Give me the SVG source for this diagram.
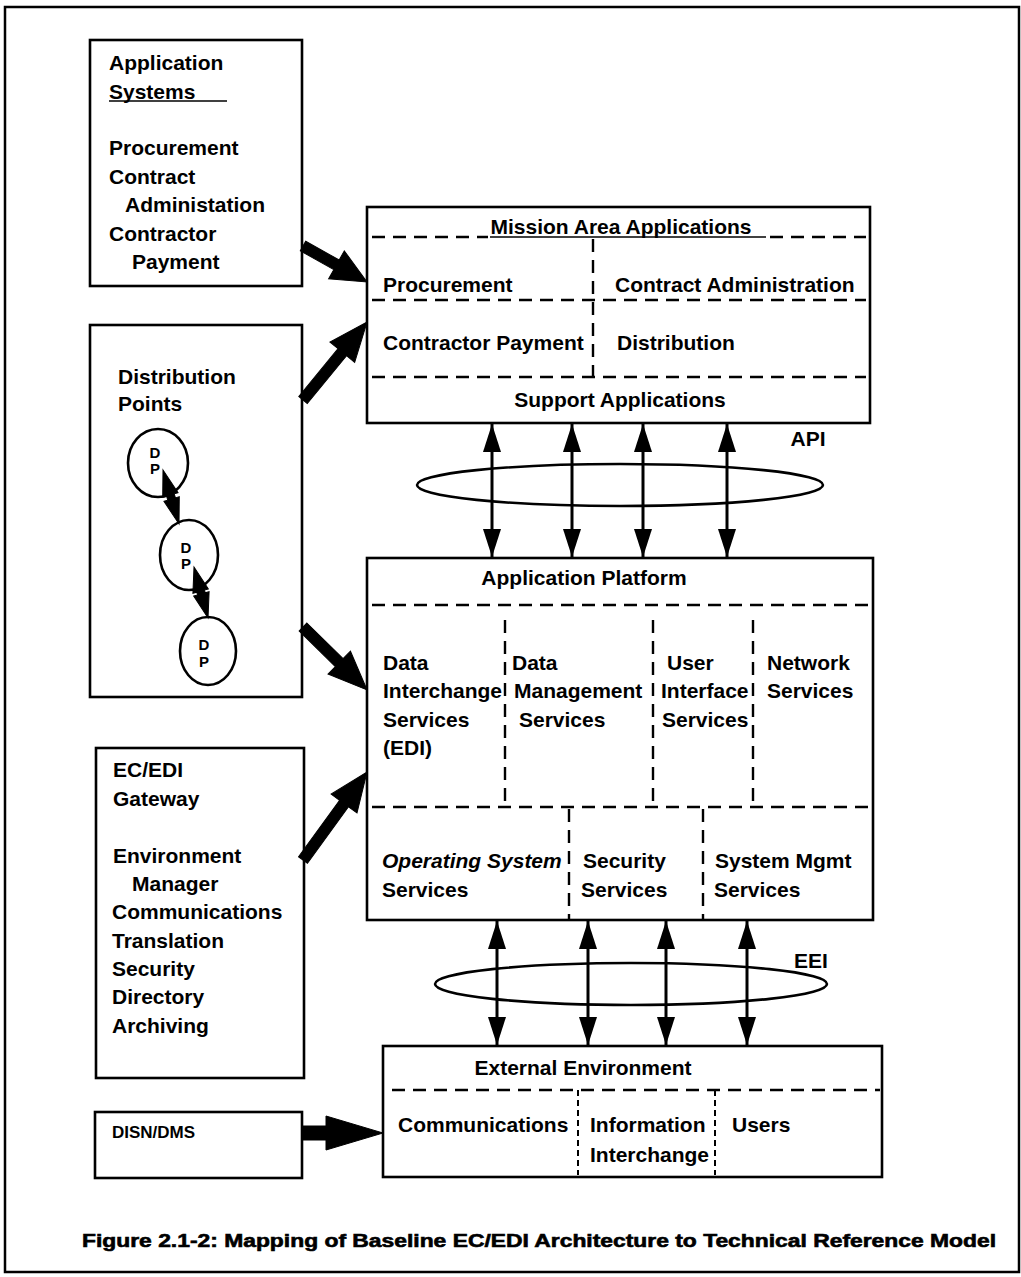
<svg xmlns="http://www.w3.org/2000/svg" width="1021" height="1277" viewBox="0 0 1021 1277">
<style>
.box{fill:#fff;stroke:#000;stroke-width:2.6}
.dash{fill:none;stroke:#000;stroke-width:2.4;stroke-dasharray:13 8}
.dashf{fill:none;stroke:#000;stroke-width:2;stroke-dasharray:6 4}
.t{font-family:"Liberation Sans",Arial,Helvetica,sans-serif;font-weight:bold;font-size:21px;fill:#000}
.s{font-size:17px}
.dp{font-size:15px}
.cap{font-size:18px;stroke:#000;stroke-width:0.6}
.fat{fill:#000;stroke:#000;stroke-width:1}
.link{stroke:#000;stroke-width:3;fill:none}
.ring{fill:none;stroke:#000;stroke-width:2.6}
.ul{stroke:#000;stroke-width:1.6}
</style>
<defs>
<marker id="hEnd" viewBox="0 0 28 18" refX="28" refY="9" markerWidth="28" markerHeight="18" markerUnits="userSpaceOnUse" orient="auto"><path d="M0,0 L28,9 L0,18 Z" fill="#000"/></marker>
<marker id="hStart" viewBox="0 0 28 18" refX="0" refY="9" markerWidth="28" markerHeight="18" markerUnits="userSpaceOnUse" orient="auto"><path d="M28,0 L0,9 L28,18 Z" fill="#000"/></marker>
</defs>
<rect width="1021" height="1277" fill="#fff"/>
<rect x="5" y="7" width="1014" height="1265" fill="none" stroke="#000" stroke-width="2.5"/>

<g id="app-systems">
<rect class="box" x="90" y="40" width="212" height="246"/>
<text class="t" x="109" y="70">Application</text>
<text class="t" x="109" y="99">Systems</text>
<line class="ul" x1="109" y1="101" x2="227" y2="101"/>
<text class="t" x="109" y="155">Procurement</text>
<text class="t" x="109" y="184">Contract</text>
<text class="t" x="125" y="212">Administation</text>
<text class="t" x="109" y="241">Contractor</text>
<text class="t" x="132" y="269">Payment</text>
</g>

<g id="distribution-points">
<rect class="box" x="90" y="325" width="212" height="372"/>
<text class="t" x="118" y="384">Distribution</text>
<text class="t" x="118" y="411">Points</text>
<ellipse class="ring" cx="158" cy="463" rx="30" ry="34"/>
<text class="t dp" x="155" y="458" text-anchor="middle">D</text>
<text class="t dp" x="155" y="474" text-anchor="middle">P</text>
<ellipse class="ring" cx="189" cy="555" rx="29" ry="35"/>
<text class="t dp" x="186" y="553" text-anchor="middle">D</text>
<text class="t dp" x="186" y="569" text-anchor="middle">P</text>
<ellipse class="ring" cx="208" cy="651" rx="28" ry="34"/>
<text class="t dp" x="204" y="650" text-anchor="middle">D</text>
<text class="t dp" x="204" y="667" text-anchor="middle">P</text>
</g>

<g id="ec-edi-gateway">
<rect class="box" x="96" y="748" width="208" height="330"/>
<text class="t" x="113" y="777">EC/EDI</text>
<text class="t" x="113" y="806">Gateway</text>
<text class="t" x="113" y="863">Environment</text>
<text class="t" x="132" y="891">Manager</text>
<text class="t" x="112" y="919">Communications</text>
<text class="t" x="112" y="948">Translation</text>
<text class="t" x="112" y="976">Security</text>
<text class="t" x="112" y="1004">Directory</text>
<text class="t" x="112" y="1033">Archiving</text>
</g>

<g id="disn-dms">
<rect class="box" x="95" y="1112" width="207" height="66"/>
<text class="t s" x="112" y="1138">DISN/DMS</text>
</g>

<g id="mission-area">
<rect class="box" x="367" y="207" width="503" height="216"/>
<line class="dash" x1="372" y1="237" x2="488" y2="237"/>
<line class="dash" x1="770" y1="237" x2="866" y2="237"/>
<text class="t" x="621" y="234" text-anchor="middle">Mission Area Applications</text>
<line class="ul" x1="490" y1="237" x2="766" y2="237"/>
<line class="dash" x1="593" y1="239" x2="593" y2="376"/>
<line class="dash" x1="372" y1="300" x2="866" y2="300"/>
<line class="dash" x1="372" y1="377" x2="866" y2="377"/>
<text class="t" x="383" y="292">Procurement</text>
<text class="t" x="615" y="292">Contract Administration</text>
<text class="t" x="383" y="350">Contractor Payment</text>
<text class="t" x="617" y="350">Distribution</text>
<text class="t" x="620" y="407" text-anchor="middle">Support Applications</text>
</g>

<g id="api">
<ellipse class="ring" cx="620" cy="485" rx="203" ry="21"/>
<text class="t" x="808" y="446" text-anchor="middle">API</text>
</g>

<g id="application-platform">
<rect class="box" x="367" y="558" width="506" height="362"/>
<text class="t" x="584" y="585" text-anchor="middle">Application Platform</text>
<line class="dash" x1="372" y1="605" x2="870" y2="605"/>
<line class="dash" x1="505" y1="620" x2="505" y2="807"/>
<line class="dash" x1="653" y1="620" x2="653" y2="807"/>
<line class="dash" x1="753" y1="620" x2="753" y2="807"/>
<line class="dash" x1="372" y1="807" x2="870" y2="807"/>
<line class="dash" x1="569" y1="809" x2="569" y2="920"/>
<line class="dash" x1="703" y1="809" x2="703" y2="920"/>
<text class="t" x="383" y="670">Data</text>
<text class="t" x="383" y="698">Interchange</text>
<text class="t" x="383" y="727">Services</text>
<text class="t" x="383" y="755">(EDI)</text>
<text class="t" x="512" y="670">Data</text>
<text class="t" x="514" y="698">Management</text>
<text class="t" x="519" y="727">Services</text>
<text class="t" x="667" y="670">User</text>
<text class="t" x="661" y="698">Interface</text>
<text class="t" x="662" y="727">Services</text>
<text class="t" x="767" y="670">Network</text>
<text class="t" x="767" y="698">Services</text>
<text class="t" x="382" y="868" font-style="italic" font-size="20">Operating System</text>
<text class="t" x="382" y="897">Services</text>
<text class="t" x="583" y="868">Security</text>
<text class="t" x="581" y="897">Services</text>
<text class="t" x="715" y="868">System Mgmt</text>
<text class="t" x="714" y="897">Services</text>
</g>

<g id="eei">
<ellipse class="ring" cx="631" cy="984" rx="196" ry="21"/>
<text class="t" x="811" y="968" text-anchor="middle">EEI</text>
</g>

<g id="external-environment">
<rect class="box" x="383" y="1046" width="499" height="131"/>
<text class="t" x="583" y="1075" text-anchor="middle">External Environment</text>
<line class="dash" x1="392" y1="1090" x2="880" y2="1090"/>
<line class="dashf" x1="578" y1="1090" x2="578" y2="1175"/>
<line class="dashf" x1="715" y1="1090" x2="715" y2="1175"/>
<text class="t" x="398" y="1132">Communications</text>
<text class="t" x="590" y="1132">Information</text>
<text class="t" x="590" y="1162">Interchange</text>
<text class="t" x="732" y="1132">Users</text>
</g>

<g id="connectors">
<path class="fat" transform="translate(303,246) rotate(29.36)" d="M0,-5.5 L38.4,-5.5 L38.4,-16 L73.4,0 L38.4,16 L38.4,5.5 L0,5.5 Z"/>
<path class="fat" transform="translate(303,400) rotate(-50.6)" d="M0,-5.5 L61.9,-5.5 L61.9,-16 L100.9,0 L61.9,16 L61.9,5.5 L0,5.5 Z"/>
<path class="fat" transform="translate(303,627) rotate(44.5)" d="M0,-5.5 L50.8,-5.5 L50.8,-16 L89.8,0 L50.8,16 L50.8,5.5 L0,5.5 Z"/>
<path class="fat" transform="translate(303,860) rotate(-53.97)" d="M0,-5.5 L69.8,-5.5 L69.8,-16 L108.8,0 L69.8,16 L69.8,5.5 L0,5.5 Z"/>
<path class="fat" transform="translate(302,1133)" d="M0,-7 L24,-7 L24,-17 L81,0 L24,17 L24,7 L0,7 Z"/>
<path class="fat" transform="translate(163,470) rotate(73.5)" d="M0,0 L26,-8 L26,-4 L30.3,-4 L30.3,-8 L56.3,0 L30.3,8 L30.3,4 L26,4 L26,8 Z"/>
<path class="fat" transform="translate(194,567) rotate(74.65)" d="M0,0 L25,-8 L25,-4 L27.9,-4 L27.9,-8 L52.9,0 L27.9,8 L27.9,4 L25,4 L25,8 Z"/>
<line class="link" x1="492" y1="424" x2="492" y2="557" marker-start="url(#hStart)" marker-end="url(#hEnd)"/>
<line class="link" x1="572" y1="424" x2="572" y2="557" marker-start="url(#hStart)" marker-end="url(#hEnd)"/>
<line class="link" x1="643" y1="424" x2="643" y2="557" marker-start="url(#hStart)" marker-end="url(#hEnd)"/>
<line class="link" x1="727" y1="424" x2="727" y2="557" marker-start="url(#hStart)" marker-end="url(#hEnd)"/>
<line class="link" x1="497" y1="921" x2="497" y2="1045" marker-start="url(#hStart)" marker-end="url(#hEnd)"/>
<line class="link" x1="588" y1="921" x2="588" y2="1045" marker-start="url(#hStart)" marker-end="url(#hEnd)"/>
<line class="link" x1="666" y1="921" x2="666" y2="1045" marker-start="url(#hStart)" marker-end="url(#hEnd)"/>
<line class="link" x1="747" y1="921" x2="747" y2="1045" marker-start="url(#hStart)" marker-end="url(#hEnd)"/>
</g>

<text class="t cap" x="82" y="1247" textLength="914" lengthAdjust="spacingAndGlyphs">Figure 2.1-2:  Mapping of Baseline EC/EDI Architecture to Technical Reference Model</text>
</svg>
